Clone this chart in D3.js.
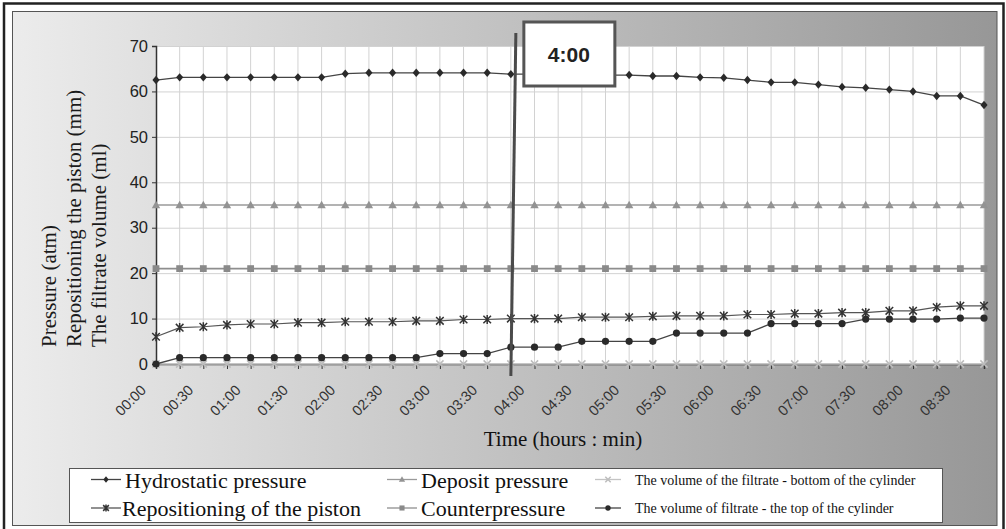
<!DOCTYPE html>
<html>
<head>
<meta charset="utf-8">
<script src="https://cdn.jsdelivr.net/npm/d3@7"></script>
<style>
  body { margin: 0; background: #fff; }
  svg { display: block; }
</style>
</head>
<body>
<svg id="chart" width="1006" height="529"></svg>
<script>
// Sampling times, every 15 minutes
const categories = [
  "00:00","00:15","00:30","00:45","01:00","01:15","01:30","01:45",
  "02:00","02:15","02:30","02:45","03:00","03:15","03:30","03:45",
  "04:00","04:15","04:30","04:45","05:00","05:15","05:30","05:45",
  "06:00","06:15","06:30","06:45","07:00","07:15","07:30","07:45",
  "08:00","08:15","08:30","08:45"
];
const tickLabels = [
  "00:00","00:30","01:00","01:30","02:00","02:30","03:00","03:30","04:00",
  "04:30","05:00","05:30","06:00","06:30","07:00","07:30","08:00","08:30"
];
const yTicks = [0, 10, 20, 30, 40, 50, 60, 70];

const hydrostatic = [62.5, 63.1, 63.1, 63.1, 63.1, 63.1, 63.1, 63.1, 63.9, 64.1, 64.1, 64.1,
  64.1, 64.1, 64.1, 63.8, 63.8, 63.7, 63.7, 63.6, 63.6, 63.4, 63.4, 63.1,
  63.0, 62.5, 62.0, 62.0, 61.5, 61.0, 60.8, 60.4, 60.0, 59.0, 59.0, 57.0];
const depositPressure = [35, 35, 35, 35, 35, 35, 35, 35, 35, 35, 35, 35,
  35, 35, 35, 35, 35, 35, 35, 35, 35, 35, 35, 35,
  35, 35, 35, 35, 35, 35, 35, 35, 35, 35, 35, 35];
const counterpressure = [21, 21, 21, 21, 21, 21, 21, 21, 21, 21, 21, 21,
  21, 21, 21, 21, 21, 21, 21, 21, 21, 21, 21, 21,
  21, 21, 21, 21, 21, 21, 21, 21, 21, 21, 21, 21];
const piston = [6.0, 8.0, 8.2, 8.6, 8.8, 8.8, 9.1, 9.1, 9.3, 9.3, 9.3, 9.5,
  9.5, 9.8, 9.8, 10.0, 10.0, 10.0, 10.3, 10.3, 10.3, 10.5, 10.6, 10.6,
  10.6, 10.9, 10.9, 11.1, 11.1, 11.3, 11.3, 11.7, 11.7, 12.5, 12.8, 12.8];
const filtrateBottom = [0, 0, 0, 0, 0, 0, 0, 0, 0, 0, 0, 0,
  0, 0, 0, 0, 0, 0, 0, 0, 0, 0, 0, 0,
  0, 0, 0, 0, 0, 0, 0, 0, 0, 0, 0, 0];
const filtrateTop = [0, 1.4, 1.4, 1.4, 1.4, 1.4, 1.4, 1.4, 1.4, 1.4, 1.4, 1.4,
  2.3, 2.3, 2.3, 3.7, 3.7, 3.7, 5.0, 5.0, 5.0, 5.0, 6.8, 6.8,
  6.8, 6.8, 8.9, 8.9, 8.9, 8.9, 9.9, 9.9, 9.9, 9.9, 10.1, 10.1];

// Event marker
const eventIndex = 15;
const eventLabel = "4:00";

const yTitleLines = ["Pressure (atm)", "Repositioning the piston (mm)", "The filtrate volume (ml)"];
const xTitle = "Time (hours : min)";

const SERIF = "'Liberation Serif', 'Times New Roman', serif";
const SANS = "'Liberation Sans', Arial, sans-serif";

const svg = d3.select("#chart");

// Frame and gradient panel
const defs = svg.append("defs");
const grad = defs.append("linearGradient").attr("id", "panelGrad")
  .attr("x1", "0%").attr("y1", "0%").attr("x2", "100%").attr("y2", "0%");
grad.append("stop").attr("offset", "0%").attr("stop-color", "#ececec");
grad.append("stop").attr("offset", "100%").attr("stop-color", "#979797");

svg.append("rect").attr("x", 4).attr("y", 3.5).attr("width", 999.5).attr("height", 530)
  .attr("fill", "#fff").attr("stroke", "#222").attr("stroke-width", 2.5);
svg.append("rect").attr("x", 12.5).attr("y", 11.5).attr("width", 984.5).attr("height", 514)
  .attr("fill", "url(#panelGrad)").attr("stroke", "#555").attr("stroke-width", 1);

// Plot area
const plotLeft = 156, plotRight = 984, plotTop = 46, plotBottom = 364;
const x = d3.scalePoint().domain(categories).range([plotLeft, plotRight]);
const y = d3.scaleLinear().domain([0, 70]).range([plotBottom, plotTop]);

svg.append("rect").attr("x", plotLeft).attr("y", plotTop)
  .attr("width", plotRight - plotLeft).attr("height", plotBottom - plotTop).attr("fill", "#fff");

// Grid
const grid = svg.append("g").attr("stroke", "#d2d2d2").attr("stroke-width", 1);
grid.selectAll("line.h").data(yTicks.slice(1)).join("line")
  .attr("x1", plotLeft).attr("x2", plotRight)
  .attr("y1", d => y(d) + 0.5).attr("y2", d => y(d) + 0.5);
grid.selectAll("line.v").data(categories.slice(1)).join("line")
  .attr("x1", d => x(d)).attr("x2", d => x(d))
  .attr("y1", plotTop).attr("y2", plotBottom);

// Axes
const yAxis = d3.axisLeft(y).tickValues(yTicks).tickSize(4).tickPadding(4);
const gy = svg.append("g").attr("transform", `translate(${plotLeft},0)`).call(yAxis);
gy.select(".domain").attr("stroke", "#333").attr("stroke-width", 1.5);
gy.selectAll(".tick line").attr("stroke", "#333");
gy.selectAll(".tick text").attr("font-family", SANS).attr("font-size", 16.5).attr("fill", "#222");

const xAxis = d3.axisBottom(x).tickSize(5).tickFormat("");
const gx = svg.append("g").attr("transform", `translate(0,${plotBottom})`).call(xAxis);
gx.select(".domain").attr("stroke", "#333").attr("stroke-width", 1.5);
gx.selectAll(".tick line").attr("stroke", "#333");

svg.append("g").selectAll("text").data(tickLabels).join("text")
  .attr("transform", d => `translate(${x(d) - 9},${391}) rotate(-45)`)
  .attr("text-anchor", "end")
  .attr("font-family", SANS).attr("font-size", 14.5).attr("fill", "#333")
  .text(d => d);

// Titles
svg.append("text").attr("x", 563).attr("y", 446).attr("text-anchor", "middle")
  .attr("font-family", SERIF).attr("font-size", 21).attr("fill", "#111").text(xTitle);

const yTitle = svg.append("g");
yTitleLines.forEach((t, i) => {
  yTitle.append("text")
    .attr("transform", `translate(${56 + i * 25},347) rotate(-90)`)
    .attr("font-family", SERIF).attr("font-size", 21).attr("fill", "#1a1a1a").text(t);
});

// Marker shapes
const markers = {
  diamond: (g, s) => g.append("path").attr("d", `M0,${-s}L${s * 0.85},0L0,${s}L${-s * 0.85},0Z`),
  triangle: (g, s) => g.append("path").attr("d", `M0,${-s}L${s},${s * 0.75}L${-s},${s * 0.75}Z`),
  square: (g, s) => g.append("rect").attr("x", -s).attr("y", -s).attr("width", 2 * s).attr("height", 2 * s),
  circle: (g, s) => g.append("circle").attr("r", s),
  star: (g, s) => g.append("path").attr("d", `M${-s},${-s}L${s},${s}M${-s},${s}L${s},${-s}M0,${-s * 1.2}L0,${s * 1.2}`),
  cross: (g, s) => g.append("path").attr("d", `M${-s},${-s}L${s},${s}M${-s},${s}L${s},${-s}`)
};

const series = [
  { name: "Hydrostatic pressure", values: hydrostatic, line: "#444", lw: 1.3, marker: "diamond", mc: "#2a2a2a", size: 4.2, stroked: false },
  { name: "Deposit pressure", values: depositPressure, line: "#9a9a9a", lw: 1.6, marker: "triangle", mc: "#939393", size: 4.2, stroked: false },
  { name: "Counterpressure", values: counterpressure, line: "#8e8e8e", lw: 1.6, marker: "square", mc: "#8a8a8a", size: 3.4, stroked: false },
  { name: "Repositioning of the piston", values: piston, line: "#555", lw: 1.2, marker: "star", mc: "#333", size: 3.8, stroked: true },
  { name: "The volume of the filtrate - bottom of the cylinder", values: filtrateBottom, line: "#c4c4c4", lw: 1.6, marker: "cross", mc: "#bdbdbd", size: 3.6, stroked: true },
  { name: "The volume of filtrate - the top of the cylinder", values: filtrateTop, line: "#444", lw: 1.3, marker: "circle", mc: "#2a2a2a", size: 3.6, stroked: false }
];

const lineGen = d3.line().x((d, i) => x(categories[i])).y(d => y(d));

function drawMarker(g, s, sizeScale) {
  const m = markers[s.marker](g, s.size * sizeScale);
  if (s.stroked) m.attr("fill", "none").attr("stroke", s.mc).attr("stroke-width", 1.5);
  else m.attr("fill", s.mc).attr("stroke", "none");
}

series.forEach(s => {
  svg.append("path").datum(s.values).attr("d", lineGen)
    .attr("fill", "none").attr("stroke", s.line).attr("stroke-width", s.lw);
  const mg = svg.append("g");
  s.values.forEach((v, i) => {
    const g = mg.append("g").attr("transform", `translate(${x(categories[i])},${y(v)})`);
    drawMarker(g, s, 1);
  });
});

// Event line and label box
const ex = x(categories[eventIndex]);
svg.append("line").attr("x1", ex + 5).attr("y1", 33).attr("x2", ex).attr("y2", 376)
  .attr("stroke", "#4a4a4a").attr("stroke-width", 3);
svg.append("rect").attr("x", ex + 13).attr("y", 22).attr("width", 91).attr("height", 64)
  .attr("fill", "#fff").attr("stroke", "#555").attr("stroke-width", 3);
svg.append("text").attr("x", ex + 58).attr("y", 62).attr("text-anchor", "middle")
  .attr("font-family", SANS).attr("font-weight", "bold").attr("font-size", 21)
  .attr("fill", "#222").text(eventLabel);

// Legend
svg.append("rect").attr("x", 69.5).attr("y", 468.5).attr("width", 873).attr("height", 54)
  .attr("fill", "#fff").attr("stroke", "#555").attr("stroke-width", 1);

const legendLayout = [
  { s: 0, x: 91, y: 479.5, tx: 125, fs: 22, dy: 8 },
  { s: 3, x: 91, y: 508, tx: 122, fs: 22, dy: 8 },
  { s: 1, x: 387, y: 479.5, tx: 421, fs: 22, dy: 8 },
  { s: 2, x: 387, y: 508, tx: 421, fs: 22, dy: 8 },
  { s: 4, x: 595, y: 479.5, tx: 635, fs: 14, dy: 5 },
  { s: 5, x: 595, y: 508, tx: 635, fs: 14, dy: 5 }
];
legendLayout.forEach(l => {
  const s = series[l.s];
  const w = l.s >= 4 ? 26 : 30;
  svg.append("line").attr("x1", l.x).attr("x2", l.x + w).attr("y1", l.y).attr("y2", l.y)
    .attr("stroke", s.line).attr("stroke-width", 1.3);
  const g = svg.append("g").attr("transform", `translate(${l.x + w / 2},${l.y})`);
  drawMarker(g, s, 0.75);
  svg.append("text").attr("x", l.tx).attr("y", l.y + l.dy)
    .attr("font-family", SERIF).attr("font-size", l.fs).attr("fill", "#111").text(s.name);
});
</script>
</body>
</html>
